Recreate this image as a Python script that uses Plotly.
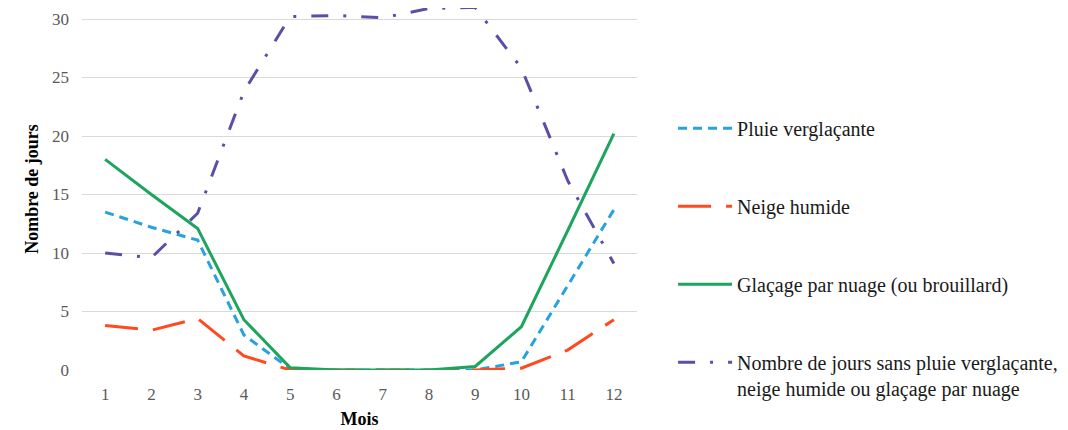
import plotly.graph_objects as go

months = [1, 2, 3, 4, 5, 6, 7, 8, 9, 10, 11, 12]
month_labels = [str(m) for m in months]

pluie_verglacante = [13.5, 12.2, 11.1, 3.0, 0.1, 0, 0, 0, 0, 0.7, 7.2, 13.7]
neige_humide = [3.8, 3.4, 4.4, 1.2, 0, 0, 0, 0, 0, 0.15, 1.7, 4.3]
glacage_nuage = [18.0, 15.0, 12.1, 4.3, 0.2, 0, 0, 0, 0.3, 3.7, 11.9, 20.2]
jours_sans = [10.0, 9.6, 13.4, 23.8, 30.2, 30.3, 30.1, 30.9, 31.0, 25.8, 16.2, 9.1]

names = [
    "Pluie verglaçante",
    "Neige humide",
    "Glaçage par nuage (ou brouillard)",
    "Nombre de jours sans pluie verglaçante,<br>neige humide ou glaçage par nuage",
]
colors = ["#27a2dc", "#ff4a1f", "#1da55e", "#5a4fa6"]
dashes = ["9px,6px", "33px,15px", "solid", "17px,15px,3px,15px"]
series = [pluie_verglacante, neige_humide, glacage_nuage, jours_sans]

fig = go.Figure()
for i, (nm, ys, c, d) in enumerate(zip(names, series, colors, dashes)):
    fig.add_trace(go.Scatter(
        x=month_labels, y=ys, name=nm, mode="lines",
        line=dict(color=c, width=3, dash=d),
        legendgroup=f"g{i}", cliponaxis=False,
    ))

serif = "Liberation Serif, Times New Roman, serif"
fig.update_layout(
    width=1060, height=422,
    margin=dict(l=74, r=431, t=0, b=60),
    plot_bgcolor="white", paper_bgcolor="white",
    font=dict(family=serif, size=17, color="#595959"),
    showlegend=True,
    legend=dict(
        x=1.065, xanchor="left", y=0.722, yanchor="top",
        font=dict(family=serif, size=20, color="#1a1a1a"),
        tracegroupgap=49, valign="top", itemwidth=54,
        bgcolor="rgba(0,0,0,0)",
    ),
    xaxis=dict(
        type="category", range=[-0.5, 11.5], automargin=False,
        showgrid=False, zeroline=False, showline=False,
        ticks="", tickfont=dict(family=serif, size=17, color="#595959"),
        ticklabelstandoff=12,
        title=dict(text="<b>Mois</b>", font=dict(family=serif, size=18, color="#000000"), standoff=9),
    ),
    yaxis=dict(
        range=[0, 30.94], tickvals=[0, 5, 10, 15, 20, 25, 30], automargin=False,
        showgrid=True, gridcolor="#d9d9d9", gridwidth=1, zeroline=False, showline=False,
        ticks="", tickfont=dict(family=serif, size=17, color="#595959"),
        ticklabelstandoff=12,
        title=dict(text="<b>Nombre de jours</b>", font=dict(family=serif, size=18, color="#000000"), standoff=8),
    ),
)
fig.write_html("out.html")
